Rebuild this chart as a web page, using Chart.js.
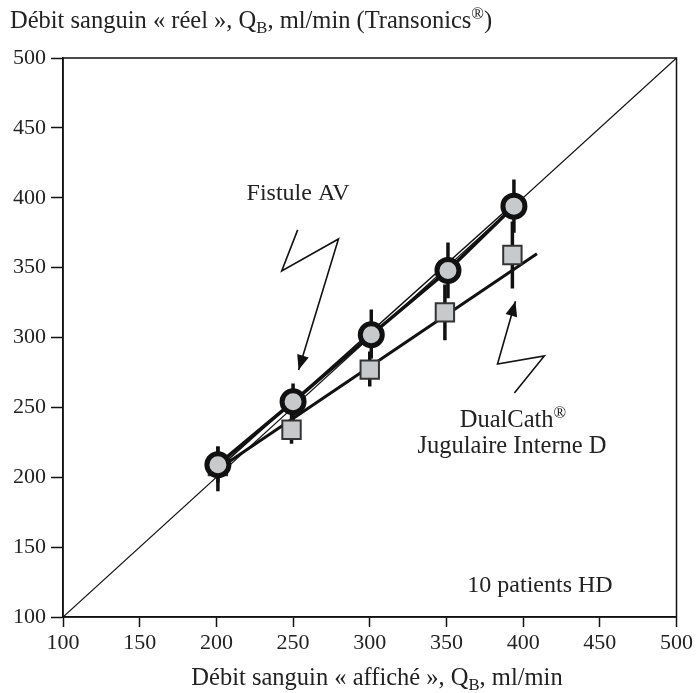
<!DOCTYPE html>
<html>
<head>
<meta charset="utf-8">
<script src="https://cdn.jsdelivr.net/npm/chart.js@4"></script>
<style>
  html, body { margin: 0; padding: 0; background: #fff; }
</style>
</head>
<body>
<canvas id="chart" width="696" height="693"></canvas>
<script>
// axis ticks
const xTicks = [100, 150, 200, 250, 300, 350, 400, 450, 500];
const yTicks = [100, 150, 200, 250, 300, 350, 400, 450, 500];

// Fistule AV (circles)
const fistuleX = [201, 250, 301, 351, 394];
const fistuleY = [209, 254, 302, 348, 394];
const fistuleHigh = [222, 267, 320, 368, 413];
const fistuleLow = [196, 241, 285, 328, 375];

// DualCath, jugulaire interne D (squares)
const dualX = [201, 249, 300, 349, 393];
const dualY = [208, 234, 277, 318, 359];
const dualHigh = [222, 245, 290, 338, 383];
const dualLow = [190, 224, 265, 298, 335];

// identity and fit lines
const identityX = [100, 500];
const identityY = [100, 500];
const fistuleFitX = [199, 395];
const fistuleFitY = [204, 397];
const dualFitX = [200, 409];
const dualFitY = [205, 360];

const serif = '"Liberation Serif", "DejaVu Serif", serif';
const ink = '#111';
const fill = '#c8c9cb';

function pts(xs, ys) {
    return xs.map((x, i) => ({ x: x, y: ys[i] }));
}

// one dataset for all error bars, with gaps between them
function errorBars(xs, lows, highs) {
    let out = [];
    xs.forEach((x, i) => {
        out.push({ x: x, y: lows[i] });
        out.push({ x: x, y: highs[i] });
        out.push({ x: x, y: null });
    });
    return out;
}

// text with sub/superscript pieces
function richText(ctx, parts, x, y, size, align) {
    let widths = parts.map(p => {
        ctx.font = (p.sub || p.sup ? size * 0.68 : size) + 'px ' + serif;
        return ctx.measureText(p.t).width;
    });
    let total = widths.reduce((a, b) => a + b, 0);
    let cx = align === 'center' ? x - total / 2 : x;
    ctx.textAlign = 'left';
    ctx.textBaseline = 'alphabetic';
    parts.forEach((p, i) => {
        ctx.font = (p.sub || p.sup ? size * 0.68 : size) + 'px ' + serif;
        let dy = p.sub ? size * 0.22 : (p.sup ? -size * 0.38 : 0);
        ctx.fillText(p.t, cx, y + dy);
        cx += widths[i];
    });
}

function arrow(ctx, sx, sy, path) {
    let p = path.map(q => [sx.getPixelForValue(q[0]), sy.getPixelForValue(q[1])]);
    ctx.beginPath();
    ctx.moveTo(p[0][0], p[0][1]);
    for (let i = 1; i < p.length; i++) ctx.lineTo(p[i][0], p[i][1]);
    ctx.stroke();
    let a = p[p.length - 2], b = p[p.length - 1];
    let ang = Math.atan2(b[1] - a[1], b[0] - a[0]);
    let len = 15, half = 6;
    ctx.beginPath();
    ctx.moveTo(b[0], b[1]);
    ctx.lineTo(b[0] - len * Math.cos(ang) + half * Math.sin(ang), b[1] - len * Math.sin(ang) - half * Math.cos(ang));
    ctx.lineTo(b[0] - len * Math.cos(ang) - half * Math.sin(ang), b[1] - len * Math.sin(ang) + half * Math.cos(ang));
    ctx.closePath();
    ctx.fill();
}

const decorations = {
    id: 'decorations',
    afterDraw(chart) {
        let ctx = chart.ctx;
        let area = chart.chartArea;
        let sx = chart.scales.x, sy = chart.scales.y;
        ctx.save();
        ctx.strokeStyle = ink;
        ctx.lineWidth = 1.5;
        ctx.strokeRect(area.left, area.top, area.right - area.left, area.bottom - area.top);

        ctx.fillStyle = '#222';
        richText(ctx, [
            { t: 'Débit sanguin « réel », Q' }, { t: 'B', sub: true },
            { t: ', ml/min (Transonics' }, { t: '®', sup: true }, { t: ')' }
        ], 10, 28, 24.5, 'left');
        richText(ctx, [
            { t: 'Débit sanguin « affiché », Q' }, { t: 'B', sub: true }, { t: ', ml/min' }
        ], 377, 685, 24.5, 'center');

        richText(ctx, [{ t: 'Fistule AV' }], 298, 200, 24, 'center');
        richText(ctx, [{ t: 'DualCath' }, { t: '®', sup: true }], 513, 427, 24.5, 'center');
        richText(ctx, [{ t: 'Jugulaire Interne D' }], 512, 453, 24.5, 'center');
        richText(ctx, [{ t: '10 patients HD' }], 540, 592, 24, 'center');

        ctx.strokeStyle = ink;
        ctx.fillStyle = ink;
        ctx.lineWidth = 1.6;
        arrow(ctx, sx, sy, [[253, 377], [242.6, 347.6], [279.6, 370.5], [253.6, 276.7]]);
        arrow(ctx, sx, sy, [[394.3, 260.3], [413.8, 286.8], [383.3, 281], [395, 326]]);
        ctx.restore();
    }
};

const lineStyle = { showLine: true, pointRadius: 0, borderColor: ink, fill: false, tension: 0 };

new Chart(document.getElementById('chart'), {
    type: 'scatter',
    data: {
        datasets: [
            {
                label: 'Fistule AV',
                data: pts(fistuleX, fistuleY),
                pointStyle: 'circle',
                pointRadius: 11,
                pointBorderWidth: 5,
                pointBackgroundColor: fill,
                pointBorderColor: ink,
                showLine: false,
                order: 0
            },
            {
                label: 'DualCath',
                data: pts(dualX, dualY),
                pointStyle: 'rect',
                pointRadius: 13,
                pointBorderWidth: 2,
                pointBackgroundColor: fill,
                pointBorderColor: '#333',
                showLine: false,
                order: 1
            },
            Object.assign({ label: 'Fistule line', data: pts(fistuleX, fistuleY), borderWidth: 3.5, order: 2 }, lineStyle),
            Object.assign({ label: 'Fistule err', data: errorBars(fistuleX, fistuleLow, fistuleHigh), borderWidth: 3.5, spanGaps: false, order: 3 }, lineStyle),
            Object.assign({ label: 'Dual err', data: errorBars(dualX, dualLow, dualHigh), borderWidth: 3.5, spanGaps: false, order: 4 }, lineStyle),
            Object.assign({ label: 'Dual fit', data: pts(dualFitX, dualFitY), borderWidth: 3, order: 5 }, lineStyle),
            Object.assign({ label: 'Fistule fit', data: pts(fistuleFitX, fistuleFitY), borderWidth: 1.5, order: 6 }, lineStyle),
            Object.assign({ label: 'Identité', data: pts(identityX, identityY), borderWidth: 1.2, order: 7 }, lineStyle)
        ]
    },
    options: {
        responsive: false,
        animation: false,
        layout: { padding: { left: 0, top: 58, right: 0, bottom: 0 } },
        plugins: { legend: { display: false }, tooltip: { enabled: false } },
        scales: {
            x: {
                type: 'linear',
                min: 100,
                max: 500,
                afterFit: s => { s.height = 76; },
                afterBuildTicks: s => { s.ticks = xTicks.map(v => ({ value: v })); },
                border: { color: ink, width: 1.5 },
                grid: { drawOnChartArea: false, drawTicks: true, tickLength: 10, tickColor: ink, tickWidth: 1.5 },
                ticks: { color: '#222', font: { family: serif, size: 22 }, padding: 3, maxRotation: 0 }
            },
            y: {
                type: 'linear',
                min: 100,
                max: 500,
                afterFit: s => { s.width = 63; },
                afterBuildTicks: s => { s.ticks = yTicks.map(v => ({ value: v })); },
                border: { color: ink, width: 1.5 },
                grid: { drawOnChartArea: false, drawTicks: true, tickLength: 12, tickColor: ink, tickWidth: 1.5 },
                ticks: { color: '#222', font: { family: serif, size: 22 }, padding: 5 }
            }
        }
    },
    plugins: [decorations]
});
</script>
</body>
</html>
